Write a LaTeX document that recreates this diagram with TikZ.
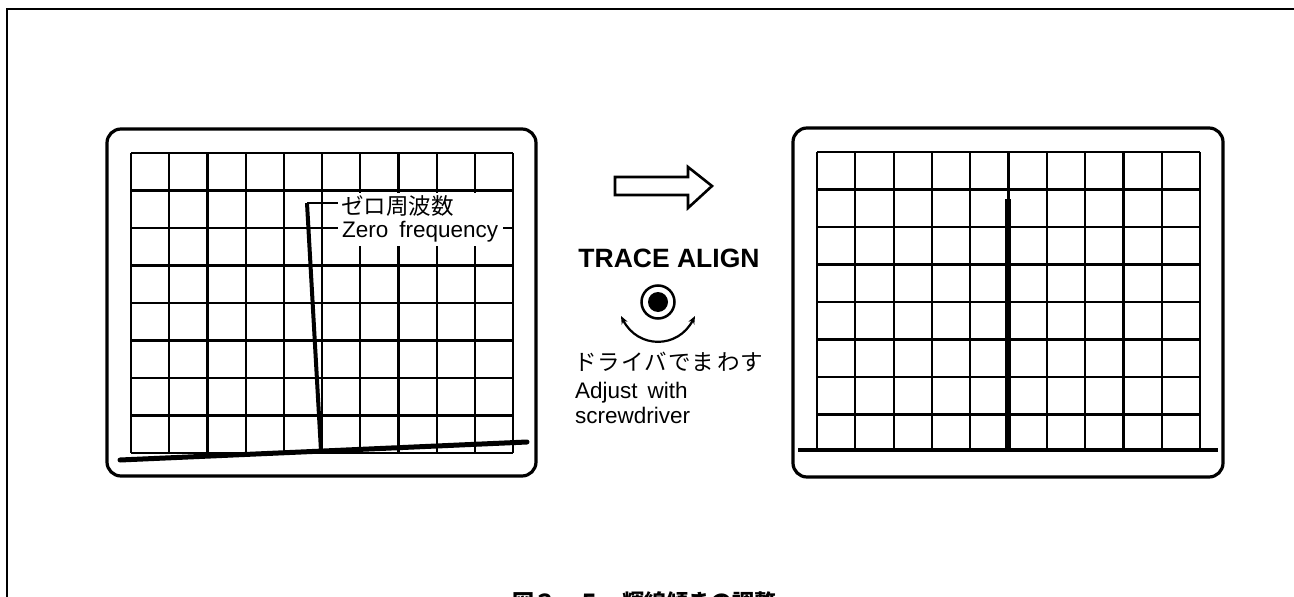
\documentclass[tikz,border=0pt]{standalone}
\usepackage{fontspec}
\setmainfont{Liberation Sans}
\newfontfamily\jp{Noto Sans CJK JP}
\usetikzlibrary{arrows.meta}
\begin{document}
\begin{tikzpicture}[x=1pt,y=-1pt,
  frame/.style={line width=2.5pt},
  screen/.style={line width=3.2pt, rounded corners=14pt},
  gridline/.style={line width=2.2pt},
  trace/.style={line width=5pt, line cap=round},
  spike/.style={line width=4pt},
  leader/.style={line width=2.2pt},
  labelbg/.style={fill=white, inner sep=0pt, minimum width=165pt, minimum height=53pt},
  lbl/.style={inner sep=0pt, font=\fontsize{22.5}{26}\selectfont},
  title/.style={inner sep=0pt, font=\bfseries\fontsize{26.5}{30}\selectfont},
  blockarrow/.style={line width=2.6pt, line join=miter},
  turn/.style={line width=2.2pt, {Stealth[length=8pt,width=6.5pt]}-{Stealth[length=8pt,width=6.5pt]}},
  caption/.style={inner sep=0pt, font=\jp\bfseries\fontsize{22}{26}\selectfont}
]
\useasboundingbox (0,0) rectangle (1294,597);
\clip (0,0) rectangle (1294,597);

% outer frame (top and left only)
\draw[frame] (1296,9) -- (7,9) -- (7,600);

% ---------------- left screen ----------------
\draw[screen] (107,129) rectangle (536,476);
\foreach \i in {0,...,10}
  \draw[gridline] ({131+38.2*\i},153) -- ({131+38.2*\i},453);
\foreach \j in {0,...,8}
  \draw[gridline] (131,{153+37.5*\j}) -- (513,{153+37.5*\j});

\node[labelbg] (lblbg) at (420.5,219.5) {};
\node[lbl, anchor=base west] (zfj) at (341,214) {\jp ゼロ周波数};
\node[lbl, anchor=base west] (zfe) at (342,237) {Zero\hspace{11pt}frequency};

\coordinate (bl1) at (120,460);
\coordinate (bl2) at (527,442);
\coordinate (spkbot) at (321,451);
\coordinate (spktop) at (307,203);
\draw[trace] (bl1) -- (bl2);
\draw[spike] (spkbot) -- (spktop);
\draw[leader] (spktop) -- (lblbg.west |- spktop);

% ---------------- middle ----------------
\draw[blockarrow] (615,177) -- (688,177) -- (688,167) -- (712,186) -- (688,208) -- (688,195) -- (615,195) -- cycle;

\node[title] (ta) at (669,258) {TRACE ALIGN};
\node[circle, draw, line width=2.5pt, minimum size=33pt, inner sep=0pt] (knob) at (658,302) {};
\fill (knob.center) circle[radius=10pt];
\coordinate (turnL) at (621,316);
\coordinate (turnR) at (695,316);
\draw[turn] (turnL) .. controls (638,349) and (678,349) .. (turnR);

\node[lbl, anchor=base west] (jdrv) at (574,370) {\jp ド\kern1ptラ\kern1ptイ\kern1ptバ\kern1ptで\kern1ptま\kern3ptわ\kern1ptす};
\node[lbl, anchor=base west] (adj) at (575,398) {Adjust\hspace{10pt}with};
\node[lbl, anchor=base west] (scr) at (575,423) {screwdriver};

% ---------------- right screen ----------------
\draw[screen] (793,128) rectangle (1223,477);
\foreach \i in {0,...,10}
  \draw[gridline] ({817+38.3*\i},152) -- ({817+38.3*\i},450);
\foreach \j in {0,...,7}
  \draw[gridline] (817,{152+37.5*\j}) -- (1200,{152+37.5*\j});
\coordinate (br1) at (798,450);
\coordinate (br2) at (1218,450);
\coordinate (rspkbot) at (1008,450);
\coordinate (rspktop) at (1008,199);
\draw[line width=4.8pt] (br1) -- (br2);
\draw[line width=5.5pt] (rspkbot) -- (rspktop);

% ---------------- caption (cut off at bottom, as in the reference) ----------------
\node[caption, anchor=base west] (cap) at (512,610) {図３－５　輝線傾きの調整};
\end{tikzpicture}
\end{document}
